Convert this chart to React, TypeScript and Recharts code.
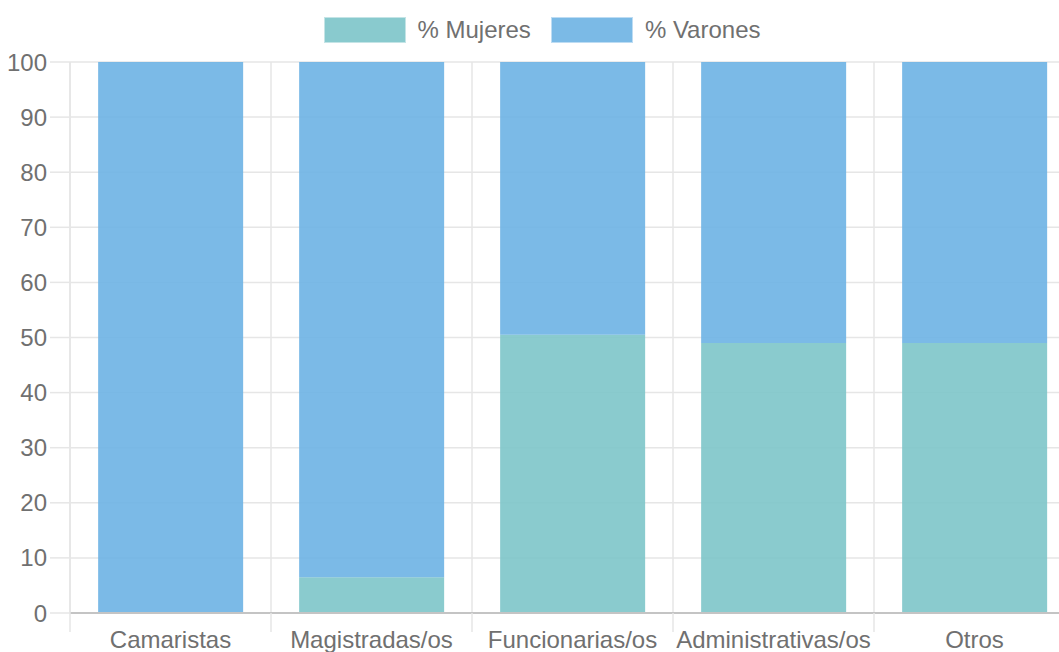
import React from "react";
import {
    BarChart,
    Bar,
    XAxis,
    YAxis,
    CartesianGrid,
    Legend,
} from "recharts";

const CATEGORIES = ["Camaristas", "Magistradas/os", "Funcionarias/os", "Administrativas/os", "Otros"];
const MUJERES = [0, 6.5, 50.5, 49, 49];
const VARONES = [100, 93.5, 49.5, 51, 51];
const Y_TICKS = [0, 10, 20, 30, 40, 50, 60, 70, 80, 90, 100];

const SERIES = [
    { key: "mujeres", name: "% Mujeres", color: "#7dc5c9" },
    { key: "varones", name: "% Varones", color: "#6db3e4" },
];

const FONT = "'Liberation Sans', Arial, Helvetica, sans-serif";
const TEXT = "#707070";
const GRID = "#e6e6e6";

const data = CATEGORIES.map((cat, i) => ({
    cat,
    mujeres: MUJERES[i],
    varones: VARONES[i],
}));

function LegendContent() {
    return (
        <div style={{ height: 62, display: "flex", justifyContent: "center", paddingTop: 17, boxSizing: "border-box", fontFamily: FONT }}>
            {SERIES.map((s, i) => (
                <div key={s.key} style={{ display: "flex", alignItems: "center", height: 26, marginLeft: i > 0 ? 20 : 0 }}>
                    <span
                        style={{
                            width: 80,
                            height: 24,
                            background: s.color,
                            opacity: 0.9,
                            border: "1px solid rgba(255,255,255,0.5)",
                            display: "inline-block",
                        }}
                    />
                    <span style={{ marginLeft: 12, fontSize: 24, color: TEXT, lineHeight: "26px" }}>{s.name}</span>
                </div>
            ))}
        </div>
    );
}

function CategoryTick(props: any) {
    const { x, y, payload, width, visibleTicksCount } = props;
    const band = width / (visibleTicksCount || CATEGORIES.length);
    const left = x - band / 2;
    return (
        <g>
            <line x1={left} x2={left} y1={y - 18} y2={y + 1} stroke={GRID} strokeWidth={1.5} />
            <text x={x} y={y} dy="0.71em" textAnchor="middle" fontSize={24} fontFamily={FONT} fill={TEXT}>
                {payload.value}
            </text>
        </g>
    );
}

export default function App() {
    return (
        <div style={{ position: "absolute", top: 0, left: 0, width: 1059, height: 652, overflow: "hidden", background: "#fff" }}>
            <BarChart
                width={1084}
                height={660}
                data={data}
                margin={{ top: 0, right: 9, bottom: 0, left: 0 }}
                barCategoryGap="14%"
            >
                <CartesianGrid
                    stroke={GRID}
                    strokeWidth={1.5}
                    verticalCoordinatesGenerator={({ offset }: any) =>
                        CATEGORIES.map((_, i) => offset.left + (i * offset.width) / CATEGORIES.length)
                    }
                />
                <XAxis
                    dataKey="cat"
                    height={47}
                    tickLine={false}
                    tickSize={18}
                    tickMargin={0}
                    interval={0}
                    axisLine={{ stroke: "#c4c4c4", strokeWidth: 2 }}
                    tick={<CategoryTick />}
                />
                <YAxis
                    type="number"
                    domain={[0, 100]}
                    ticks={Y_TICKS}
                    interval={0}
                    width={70}
                    tickSize={20}
                    tickMargin={3}
                    axisLine={{ stroke: GRID, strokeWidth: 1.5 }}
                    tickLine={{ stroke: GRID, strokeWidth: 1.5 }}
                    tick={{ fontSize: 24, fontFamily: FONT, fill: TEXT }}
                />
                <Legend verticalAlign="top" align="center" content={<LegendContent />} wrapperStyle={{ left: 0, width: 1084 }} />
                {SERIES.map((s) => (
                    <Bar
                        key={s.key}
                        dataKey={s.key}
                        name={s.name}
                        stackId="a"
                        fill={s.color}
                        fillOpacity={0.9}
                        isAnimationActive={false}
                    />
                ))}
            </BarChart>
        </div>
    );
}
